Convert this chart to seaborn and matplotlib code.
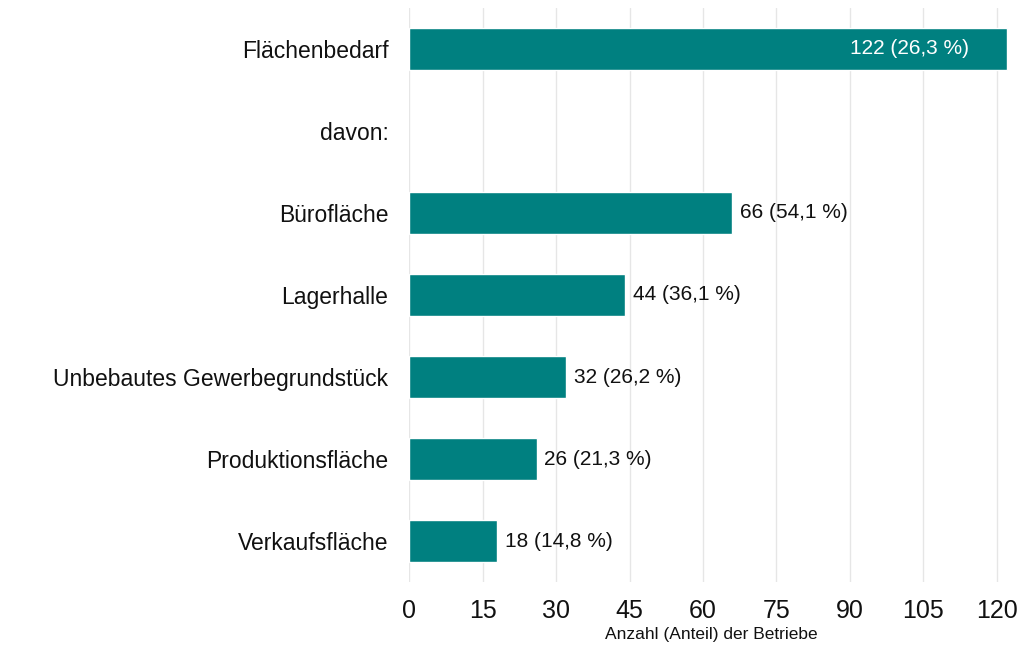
import matplotlib

matplotlib.use("Agg")
import matplotlib.pyplot as plt
import numpy as np
import pandas as pd
import seaborn as sns

categories = ["Flächenbedarf", "davon:", "Bürofläche", "Lagerhalle",
              "Unbebautes Gewerbegrundstück", "Produktionsfläche", "Verkaufsfläche"]
counts = [122, np.nan, 66, 44, 32, 26, 18]
shares = ["26,3", None, "54,1", "36,1", "26,2", "21,3", "14,8"]
x_ticks = [0, 15, 30, 45, 60, 75, 90, 105, 120]

df = pd.DataFrame({"Kategorie": categories, "Anzahl": counts})

sns.set_theme(style="white")
plt.rcParams["font.family"] = ["Liberation Sans", "DejaVu Sans"]

fig = plt.figure(figsize=(10.18, 6.49), dpi=100)
ax = fig.add_axes([0.402, 0.103, 0.594, 0.885])

sns.barplot(data=df, y="Kategorie", x="Anzahl", orient="h", color="#008080",
            saturation=1, width=0.51, order=categories, ax=ax)

ax.set_xlim(0, 123.5)
ax.set_ylim(6.5, -0.5)
ax.set_xticks(x_ticks)
ax.xaxis.grid(True, color="#e6e6e6", linewidth=1)
ax.set_axisbelow(True)
for s in ax.spines.values():
    s.set_visible(False)
ax.tick_params(axis="y", length=0, pad=15, labelsize=16.5, labelcolor="#111111")
ax.tick_params(axis="x", length=0, pad=12, labelsize=18, labelcolor="#111111")
ax.set_ylabel("")
ax.set_xlabel("Anzahl (Anteil) der Betriebe", fontsize=12.5, color="#111111", labelpad=3)

for i, (v, s) in enumerate(zip(counts, shares)):
    if s is None:
        continue
    text = f"{v:.0f} ({s} %)"
    if v > 100:
        ax.text(v - 7.7, i, text, ha="right", va="center", color="white", fontsize=15)
    else:
        ax.text(v + 1.6, i, text, ha="left", va="center", color="#111111", fontsize=15)

fig.savefig("out.png", dpi=100)
plt.close(fig)
